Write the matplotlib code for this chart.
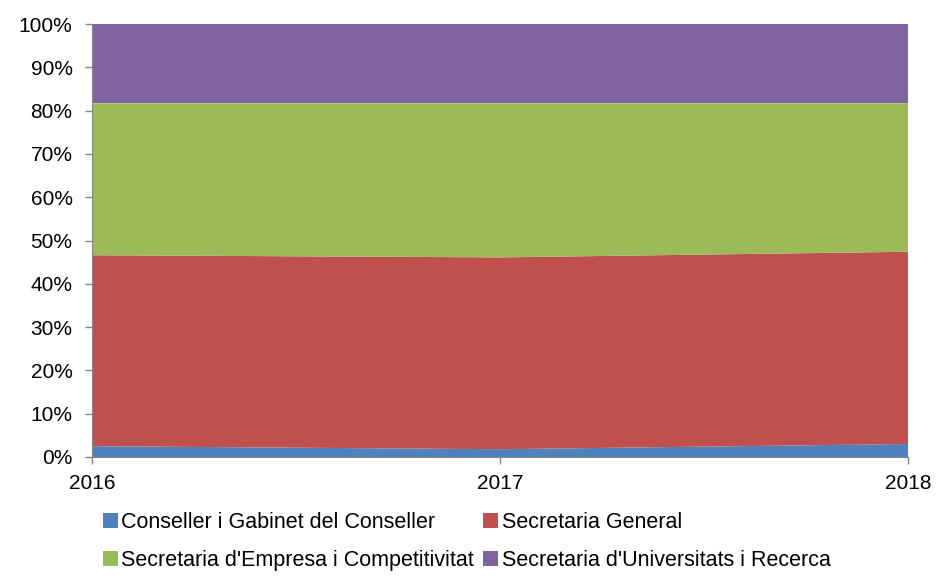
import numpy as np
import matplotlib.pyplot as plt

plt.rcParams['font.family'] = ['Liberation Sans', 'DejaVu Sans']

anys = [2016, 2017, 2018]
noms = ["Conseller i Gabinet del Conseller", "Secretaria General",
        "Secretaria d'Empresa i Competitivitat", "Secretaria d'Universitats i Recerca"]
conseller = [2.5, 1.8, 3.0]
secretaria_general = [44.1, 44.3, 44.4]
empresa = [35.1, 35.6, 34.3]
universitats = [18.3, 18.3, 18.3]
colors = ["#4f81bd", "#c0504d", "#9bbb59", "#8064a2"]

fig = plt.figure(figsize=(9.37, 5.76), dpi=100)
ax = fig.add_axes([92/937, 1-457/576, (908-92)/937, (457-24)/576])

x = np.array(anys)
vals = np.array([conseller, secretaria_general, empresa, universitats])
vals = vals / vals.sum(axis=0) * 100
ax.stackplot(x, vals, colors=colors, labels=noms, linewidth=0)

ax.set_xlim(2016, 2018)
ax.set_ylim(0, 100)
ax.set_xticks(anys)
ax.set_yticks(np.arange(0, 101, 10))
ax.set_yticklabels([f"{v}%" for v in range(0, 101, 10)])
ax.tick_params(labelsize=15, color="#868686", length=5, width=1)
ax.tick_params(axis='x', pad=7)
ax.tick_params(axis='y', pad=9)
for s in ['top', 'right']:
    ax.spines[s].set_visible(False)
for s in ['left', 'bottom']:
    ax.spines[s].set_color("#868686")

handles, labels = ax.get_legend_handles_labels()
order = [0, 2, 1, 3]
fig.legend([handles[i] for i in order], [labels[i] for i in order],
           loc='lower left', bbox_to_anchor=(94/937, -0.006), ncol=2, frameon=False,
           fontsize=15.5, handlelength=0.7, handleheight=0.7, handletextpad=0.15,
           columnspacing=0.45, labelspacing=0.8, borderaxespad=0)

fig.savefig("out.png", dpi=100)
